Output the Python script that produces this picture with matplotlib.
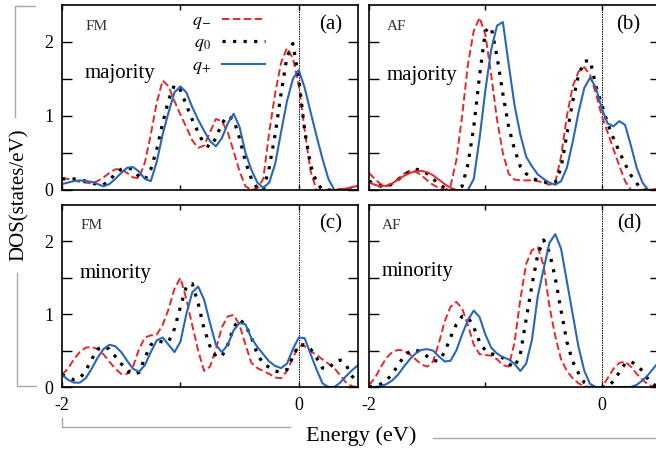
import numpy as np
import matplotlib
matplotlib.use('Agg')
from matplotlib import pyplot as plt
from matplotlib.lines import Line2D

plt.rcParams['font.family'] = ['Liberation Serif', 'DejaVu Serif']
plt.rcParams['mathtext.fontset'] = 'stix'
plt.rcParams['axes.unicode_minus'] = False

## grille en énergie (eV)
energy = [-2.00, -1.95, -1.90, -1.85, -1.80, -1.75, -1.70, -1.65, -1.60, -1.55,
          -1.50, -1.45, -1.40, -1.35, -1.30, -1.25, -1.20, -1.15, -1.10, -1.05,
          -1.00, -0.95, -0.90, -0.85, -0.80, -0.75, -0.70, -0.65, -0.60, -0.55,
          -0.50, -0.45, -0.40, -0.35, -0.30, -0.25, -0.20, -0.15, -0.10, -0.05,
          0.00, 0.05, 0.10, 0.15, 0.20, 0.25, 0.30, 0.35, 0.40, 0.45, 0.50]

# (a) FM majority
a_minus = [0.16, 0.15, 0.13, 0.11, 0.10, 0.09, 0.12, 0.17, 0.23, 0.28,
           0.28, 0.23, 0.17, 0.16, 0.37, 0.75, 1.18, 1.48, 1.40, 1.20,
           1.02, 0.85, 0.67, 0.57, 0.60, 0.78, 0.96, 0.93, 0.78, 0.52,
           0.25, 0.05, 0.00, 0.02, 0.15, 0.78, 1.30, 1.72, 1.92, 1.78,
           1.42, 0.80, 0.25, 0.00, 0.00, 0.00, 0.00, 0.00, 0.00, 0.00, 0.00]
a_zero = [0.15, 0.15, 0.15, 0.14, 0.12, 0.09, 0.08, 0.07, 0.13, 0.22,
          0.28, 0.30, 0.28, 0.18, 0.14, 0.28, 0.55, 0.90, 1.22, 1.42,
          1.35, 1.15, 0.95, 0.78, 0.62, 0.58, 0.70, 0.90, 1.00, 0.95,
          0.70, 0.38, 0.15, 0.02, 0.00, 0.30, 0.75, 1.30, 1.80, 1.98,
          1.50, 0.80, 0.33, 0.10, 0.00, 0.00, 0.00, 0.00, 0.00, 0.00, 0.00]
a_plus = [0.08, 0.10, 0.12, 0.13, 0.12, 0.11, 0.08, 0.05, 0.08, 0.15,
          0.23, 0.30, 0.31, 0.25, 0.15, 0.12, 0.38, 0.75, 1.05, 1.32,
          1.40, 1.32, 1.12, 0.95, 0.80, 0.66, 0.59, 0.70, 0.90, 1.03,
          0.85, 0.50, 0.27, 0.10, 0.03, 0.10, 0.35, 0.78, 1.20, 1.50,
          1.62, 1.38, 1.05, 0.73, 0.42, 0.15, 0.00, 0.00, 0.00, 0.00, 0.00]
a_tail = [0.00, 0.01, 0.02, 0.04, 0.055]          # trait rouge plein, E >= 0.3

# (b) AF majority
b_minus = [0.23, 0.15, 0.08, 0.05, 0.08, 0.15, 0.22, 0.26, 0.25, 0.20,
           0.13, 0.07, 0.03, 0.00, 0.05, 0.40, 1.00, 1.70, 2.15, 2.33,
           2.10, 1.55, 0.95, 0.50, 0.22, 0.14, 0.13, 0.13, 0.13, 0.12,
           0.10, 0.07, 0.10, 0.45, 1.00, 1.40, 1.60, 1.66, 1.55, 1.30,
           1.00, 0.78, 0.55, 0.33, 0.12, 0.00, 0.00, 0.00, 0.00, 0.00, 0.00]
b_zero = [0.12, 0.08, 0.05, 0.05, 0.08, 0.14, 0.20, 0.25, 0.28, 0.27,
          0.22, 0.15, 0.08, 0.03, 0.00, 0.00, 0.05, 0.35, 0.85, 1.55,
          2.15, 2.20, 1.80, 1.30, 0.85, 0.55, 0.32, 0.22, 0.16, 0.13,
          0.11, 0.10, 0.10, 0.30, 0.75, 1.20, 1.55, 1.74, 1.75, 1.40,
          1.15, 0.90, 0.70, 0.52, 0.35, 0.20, 0.09, 0.00, 0.00, 0.00, 0.00]
b_plus = [0.00, 0.15, 0.70, 1.35, 1.90, 2.22, 2.27, 1.70, 1.15, 0.75,
          0.45, 0.32, 0.21, 0.15, 0.10, 0.07, 0.12, 0.30, 0.65, 1.05,
          1.38, 1.52, 1.38, 1.10, 0.90, 0.86, 0.93, 0.88, 0.60, 0.30,
          0.10, 0.00, 0.00, 0.00]                    # E >= -1.15
b_low = [0.10, 0.07, 0.05, 0.06, 0.09, 0.14, 0.19, 0.23, 0.25, 0.26,
         0.24, 0.20, 0.14, 0.08, 0.03, 0.00, 0.00]   # trait rouge plein, E <= -1.2
b_tail = [0.00, 0.01, 0.02]                          # E >= 0.4

# (c) FM minority
c_minus = [0.17, 0.25, 0.38, 0.48, 0.54, 0.55, 0.52, 0.45, 0.35, 0.25,
           0.18, 0.18, 0.28, 0.52, 0.68, 0.71, 0.72, 0.85, 1.07, 1.35,
           1.50, 1.21, 0.85, 0.50, 0.22, 0.28, 0.52, 0.82, 0.97, 0.99,
           0.85, 0.58, 0.33, 0.26, 0.22, 0.18, 0.13, 0.12, 0.22, 0.40,
           0.57, 0.56, 0.49, 0.44, 0.38, 0.32, 0.26, 0.16, 0.06, 0.01, 0.00]
c_zero = [0.17, 0.13, 0.10, 0.12, 0.22, 0.38, 0.52, 0.56, 0.52, 0.42,
          0.32, 0.22, 0.17, 0.20, 0.40, 0.58, 0.63, 0.62, 0.62, 0.80,
          1.10, 1.38, 1.42, 1.15, 0.80, 0.56, 0.42, 0.42, 0.58, 0.82,
          0.93, 0.85, 0.68, 0.45, 0.32, 0.27, 0.22, 0.20, 0.24, 0.42,
          0.58, 0.58, 0.52, 0.40, 0.26, 0.25, 0.34, 0.37, 0.30, 0.15, 0.05]
c_plus = [0.17, 0.10, 0.06, 0.06, 0.12, 0.25, 0.40, 0.52, 0.58, 0.56,
          0.48, 0.36, 0.25, 0.21, 0.30, 0.48, 0.64, 0.68, 0.58, 0.48,
          0.62, 1.00, 1.30, 1.38, 1.20, 0.88, 0.58, 0.48, 0.58, 0.78,
          0.88, 0.86, 0.67, 0.55, 0.45, 0.35, 0.29, 0.26, 0.32, 0.52,
          0.68, 0.67, 0.45, 0.24, 0.05, 0.00, 0.00, 0.06, 0.15, 0.23, 0.30]

# (d) AF minority
d_minus = [0.03, 0.12, 0.27, 0.40, 0.48, 0.51, 0.50, 0.45, 0.38, 0.31,
           0.28, 0.35, 0.60, 0.90, 1.10, 1.17, 1.08, 0.85, 0.58, 0.45,
           0.44, 0.43, 0.38, 0.30, 0.28, 0.61, 1.20, 1.69, 1.88, 1.92,
           1.67, 1.11, 0.70, 0.38, 0.22, 0.12, 0.05, 0.01, 0.00, 0.00,
           0.00, 0.12, 0.25, 0.33, 0.35, 0.28, 0.18, 0.10, 0.03, 0.00, 0.00]
d_zero = [0.00, 0.01, 0.04, 0.09, 0.18, 0.30, 0.42, 0.49, 0.51, 0.48,
          0.42, 0.36, 0.36, 0.48, 0.68, 0.86, 0.97, 0.96, 0.82, 0.62,
          0.50, 0.46, 0.43, 0.40, 0.32, 0.27, 0.45, 0.93, 1.40, 1.82,
          2.02, 1.85, 1.50, 1.05, 0.62, 0.35, 0.19, 0.06, 0.01, 0.00,
          0.00, 0.00, 0.08, 0.20, 0.32, 0.35, 0.30, 0.22, 0.10, 0.03, 0.00]
d_plus = [0.00, 0.00, 0.01, 0.04, 0.09, 0.17, 0.28, 0.38, 0.46, 0.51,
          0.52, 0.50, 0.42, 0.35, 0.36, 0.50, 0.72, 0.92, 1.05, 0.96,
          0.72, 0.54, 0.46, 0.41, 0.38, 0.32, 0.22, 0.32, 0.65, 1.25,
          1.62, 1.98, 2.10, 1.90, 1.45, 1.00, 0.55, 0.22, 0.04, 0.00,
          0.00, 0.00, 0.00, 0.00, 0.00, 0.00, 0.03, 0.09, 0.17, 0.27, 0.36]

RED = '#e02a2a'
BLUE = '#2a66b8'
GRAY = '#a8a8a8'

fig = plt.figure(figsize=(6.56, 4.5), dpi=100)
W, H = 656., 450.

def box(l, r, t, b):
    return [l / W, 1 - b / H, (r - l) / W, (b - t) / H]

ax_a = fig.add_axes(box(62, 358, 5, 190))
ax_b = fig.add_axes(box(369, 660, 5, 190))
ax_c = fig.add_axes(box(62, 358, 205, 387))
ax_d = fig.add_axes(box(369, 660, 205, 387))

def courbes(ax, ym, y0, yp, xp=None):
    if xp is None:
        xp = energy
    lm, = ax.plot(energy, ym, color=RED, lw=1.4, ls=(0, (3.8, 1.8)))
    l0, = ax.plot(energy, y0, color='k', lw=2.3, ls=(0, (1, 2.3)), dash_capstyle='butt')
    lp, = ax.plot(xp, yp, color=BLUE, lw=1.5)
    return lm, l0, lp

def style(ax, gauche, bas):
    ax.set_xlim(-2, 0.5)
    ax.set_ylim(0, 2.5)
    ax.axvline(0, color='k', lw=0.7, ls=(0, (1.5, 1)), zorder=1)
    ax.set_xticks([-2, -1, 0])
    ax.set_yticks([0, 0.5, 1, 1.5, 2])
    ax.set_xticklabels(['-2', '', '0'] if bas else [])
    ax.set_yticklabels(['0', '', '1', '', '2'] if gauche else [])
    ax.tick_params(direction='in', top=True, right=True, width=1.0, labelsize=13)
    ax.tick_params(axis='y', length=7.5, pad=6)
    ax.tick_params(axis='x', length=3.5, pad=7)
    for s in ax.spines.values():
        s.set_linewidth(1.2)

lm, l0, lp = courbes(ax_a, a_minus, a_zero, a_plus)
ax_a.plot(energy[46:], a_tail, color=RED, lw=1.4)
courbes(ax_b, b_minus, b_zero, b_plus, xp=energy[17:])
ax_b.plot(energy[:17], b_low, color=RED, lw=1.4)
ax_b.plot(energy[48:], b_tail, color=RED, lw=1.4)
courbes(ax_c, c_minus, c_zero, c_plus)
courbes(ax_d, d_minus, d_zero, d_plus)

style(ax_a, True, False)
style(ax_b, False, False)
style(ax_c, True, True)
style(ax_d, False, True)

# textes dans les panneaux
for ax, phase, spin, lab, xs, ys, xl in [
        (ax_a, 'FM', 'majority', '(a)', 0.078, 0.63, 0.946),
        (ax_b, 'AF', 'majority', '(b)', 0.062, 0.62, 0.931),
        (ax_c, 'FM', 'minority', '(c)', 0.061, 0.626, 0.946),
        (ax_d, 'AF', 'minority', '(d)', 0.044, 0.634, 0.937)]:
    ax.text(xs, 0.885, phase, transform=ax.transAxes, fontsize=11,
            color='#333333', va='center', ha='left')
    ax.text(xs, ys, spin, transform=ax.transAxes, fontsize=15, va='center', ha='left')
    ax.text(xl, 0.895, lab, transform=ax.transAxes, fontsize=15, va='center', ha='right')

ax_a.legend([lm, l0, lp], [r'$q_{-}$', r'$q_{0}$', r'$q_{+}$'],
            loc='upper right', bbox_to_anchor=(0.686, 0.963), markerfirst=False,
            frameon=False, fontsize=13, handlelength=2.4, handletextpad=0.6,
            labelspacing=0.2, borderpad=0, borderaxespad=0)

# titres des axes, avec les traits gris
fig.text(19 / W, 1 - 195 / H, 'DOS(states/eV)', rotation=90, fontsize=15,
         ha='center', va='center')
fig.text(361 / W, 1 - 436 / H, 'Energy (eV)', fontsize=16, ha='center', va='center')

def trait(xs, ys):
    fig.add_artist(Line2D([x / W for x in xs], [1 - y / H for y in ys],
                          color=GRAY, lw=1.0, transform=fig.transFigure))

trait([35, 15, 15], [6, 6, 117])
trait([17, 17, 36], [273, 386, 386])
trait([62, 62, 290], [418, 427, 427])
trait([433, 656], [438, 438])

fig.savefig('out.png', dpi=100)
